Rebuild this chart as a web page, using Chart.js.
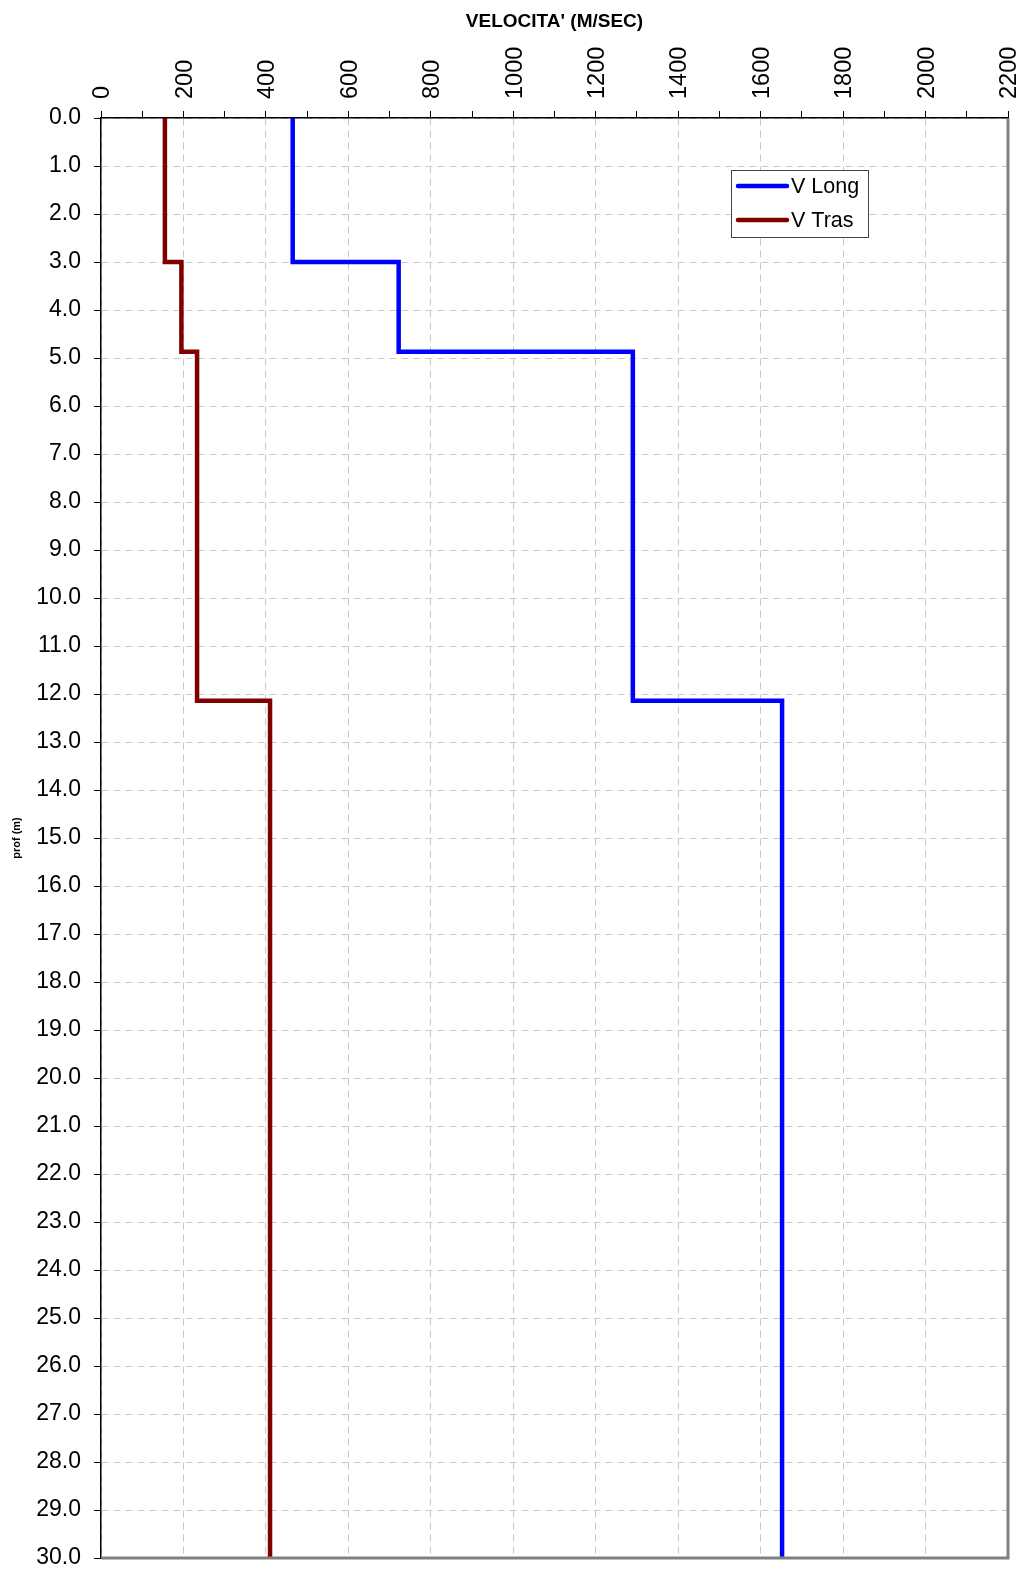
<!DOCTYPE html>
<html>
<head>
<meta charset="utf-8">
<script src="https://cdn.jsdelivr.net/npm/chart.js@4/dist/chart.umd.min.js"></script>
<style>
  body { margin: 0; background: #fff; }
  canvas { display: block; }
</style>
</head>
<body>
<canvas id="velChart" width="1027" height="1569"></canvas>
<script>
// layer boundaries (m) and velocities (m/s) for each layer
var depthBreaks = [0, 3.0, 4.87, 12.14, 30.0];
var vLong = [465, 722, 1290, 1652];
var vTras = [155, 195, 233, 410];
var seriesLabels = ['V Long', 'V Tras'];

function stepPoints(vals) {
  var pts = [];
  for (var i = 0; i < vals.length; i++) {
    pts.push({ x: vals[i], y: depthBreaks[i] });
    pts.push({ x: vals[i], y: depthBreaks[i + 1] });
  }
  return pts;
}

var FONT = "'Liberation Sans', Arial, sans-serif";
var colors = ['#0000ff', '#800000'];

var frameAndLegend = {
  id: 'frameAndLegend',
  afterDraw: function (chart) {
    var c = chart.ctx, a = chart.chartArea;
    c.save();
    // grey right/bottom frame
    c.strokeStyle = '#808080';
    c.lineWidth = 3;
    c.beginPath();
    c.moveTo(a.right, a.top);
    c.lineTo(a.right, a.bottom);
    c.lineTo(a.left, a.bottom);
    c.stroke();

    // legend box
    var bx = 731, by = 170, bw = 137, bh = 67;
    c.fillStyle = '#fff';
    c.fillRect(bx, by, bw, bh);
    c.strokeStyle = '#444';
    c.lineWidth = 1;
    c.strokeRect(bx + 0.5, by + 0.5, bw, bh);
    c.font = '21.5px ' + FONT;
    c.textBaseline = 'middle';
    c.textAlign = 'left';
    chart.data.datasets.forEach(function (ds, i) {
      var ly = by + 16 + i * 34;
      c.strokeStyle = ds.borderColor;
      c.lineWidth = 4.5;
      c.lineCap = 'round';
      c.beginPath();
      c.moveTo(738, ly);
      c.lineTo(787, ly);
      c.stroke();
      c.fillStyle = '#000';
      c.fillText(ds.label, 791, ly + 1);
    });
    c.restore();
  }
};

new Chart(document.getElementById('velChart'), {
  type: 'scatter',
  data: {
    datasets: [
      { label: seriesLabels[0], data: stepPoints(vLong) },
      { label: seriesLabels[1], data: stepPoints(vTras) }
    ].map(function (ds, i) {
      ds.showLine = true;
      ds.borderColor = colors[i];
      ds.backgroundColor = colors[i];
      ds.borderWidth = 4.5;
      ds.pointRadius = 0;
      ds.borderJoinStyle = 'miter';
      ds.tension = 0;
      return ds;
    })
  },
  options: {
    responsive: false,
    animation: false,
    layout: { padding: { left: 0, top: 0, right: 19, bottom: 11 } },
    plugins: { legend: { display: false }, tooltip: { enabled: false } },
    scales: {
      x: {
        type: 'linear',
        position: 'top',
        min: 0,
        max: 2200,
        afterFit: function (s) { s.height = 118; s.paddingLeft = 0; s.paddingRight = 0; },
        title: {
          display: true,
          text: "VELOCITA' (M/SEC)",
          color: '#000',
          font: { family: FONT, size: 19, weight: 'bold' },
          padding: { top: 10, bottom: 0 }
        },
        ticks: {
          stepSize: 100,
          autoSkip: false,
          minRotation: 90,
          maxRotation: 90,
          padding: 12,
          labelOffset: 30,
          color: '#000',
          font: { family: FONT, size: 23.5 },
          callback: function (v) { return v % 200 === 0 ? String(v) : ''; }
        },
        grid: {
          color: function (ctx) {
            return ctx.tick && ctx.tick.value % 200 === 0 ? '#c8c8c8' : 'rgba(0,0,0,0)';
          },
          tickColor: '#000',
          tickLength: 7,
          lineWidth: 1
        },
        border: { color: '#000', width: 1.5, dash: [7, 5] }
      },
      y: {
        type: 'linear',
        reverse: true,
        min: 0,
        max: 30,
        afterFit: function (s) { s.width = 101; s.paddingTop = 0; s.paddingBottom = 0; },
        title: {
          display: true,
          text: 'prof (m)',
          color: '#000',
          font: { family: FONT, size: 11, weight: 'bold' },
          padding: { top: 10, bottom: 0 }
        },
        ticks: {
          stepSize: 1,
          padding: 13,
          color: '#000',
          font: { family: FONT, size: 23 },
          callback: function (v) { return Number(v).toFixed(1); }
        },
        grid: {
          color: '#c8c8c8',
          tickColor: '#000',
          tickLength: 7,
          lineWidth: 1
        },
        border: { color: '#000', width: 1.5, dash: [7, 5] }
      }
    }
  },
  plugins: [frameAndLegend]
});
</script>
</body>
</html>
